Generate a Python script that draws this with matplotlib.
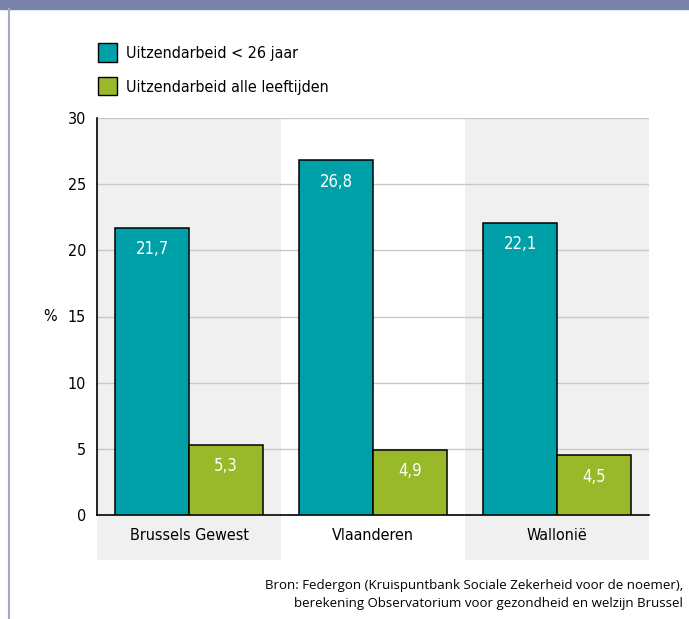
import matplotlib.pyplot as plt
import matplotlib.patches as mpatches
import matplotlib.font_manager as fm
import numpy as np

regions = ["Brussels Gewest", "Vlaanderen", "Wallonië"]
jong = [21.7, 26.8, 22.1]
alle = [5.3, 4.9, 4.5]
series_names = ["Uitzendarbeid < 26 jaar", "Uitzendarbeid alle leeftijden"]
yticks = [0, 5, 10, 15, 20, 25, 30]

teal = "#00a0a8"
green = "#99b82a"
band = "#f0f0f0"
narrow = fm.FontProperties(family="DejaVu Sans", stretch="condensed", size=11.5)

fig = plt.figure(figsize=(6.89, 6.19), dpi=100)

# header strip and left frame line
fig.patches.append(mpatches.Rectangle((0, 1 - 9 / 619), 1, 9 / 619, transform=fig.transFigure,
                                      color="#7882ab", zorder=0))
fig.lines.append(plt.Line2D([8.5 / 689, 8.5 / 689], [0, 1 - 9 / 619], transform=fig.transFigure,
                            color="#a3aacb", lw=1.5))

ax = fig.add_axes([97 / 689, 1 - 515 / 619, (649 - 97) / 689, (515 - 118) / 619])
x = np.arange(len(regions))
w = 0.4

# shaded bands for 1st and 3rd category, reaching under the labels
for i in [0, 2]:
    ax.add_patch(mpatches.Rectangle((i - 0.5, -3.4), 1, 33.4, color=band, zorder=0, clip_on=False,
                                    lw=0))

for y in yticks[1:]:
    ax.axhline(y, color="#c8c8c8", lw=1, zorder=1)

b1 = ax.bar(x - w / 2, jong, w, color=teal, edgecolor="black", lw=1.1, zorder=3)
b2 = ax.bar(x + w / 2, alle, w, color=green, edgecolor="black", lw=1.1, zorder=3)

for bars, vals in [(b1, jong), (b2, alle)]:
    for r, v in zip(bars, vals):
        ax.text(r.get_x() + r.get_width() / 2, v - 1.6, f"{v:.1f}".replace(".", ","),
                ha="center", va="center", color="white", fontproperties=narrow, fontsize=12,
                zorder=4)

ax.set_xlim(-0.5, 2.5)
ax.set_ylim(0, 30)
ax.set_facecolor("none")
ax.set_yticks(yticks)
ax.set_yticklabels([str(t) for t in yticks], fontproperties=narrow)
ax.set_xticks(x)
ax.set_xticklabels(regions, fontproperties=narrow)
ax.tick_params(axis="both", length=0, pad=8)
ax.tick_params(axis="x", pad=9)
for s in ["top", "right"]:
    ax.spines[s].set_visible(False)
ax.spines["left"].set_linewidth(1.2)
ax.spines["bottom"].set_linewidth(1.2)
ax.text(-0.085, 15, "%", transform=ax.get_yaxis_transform(), ha="center", va="center",
        fontproperties=narrow)

handles = [mpatches.Patch(facecolor=teal, edgecolor="black"),
           mpatches.Patch(facecolor=green, edgecolor="black")]
fig.legend(handles, series_names, loc="upper left", bbox_to_anchor=(84 / 689, 1 - 29 / 619),
           frameon=False, prop=narrow, handlelength=1.15, handleheight=1.4,
           handletextpad=0.6, labelspacing=0.95)

fig.text(683 / 689, 1 - 585 / 619, "Bron: Federgon (Kruispuntbank Sociale Zekerheid voor de noemer),",
         ha="right", va="center", fontsize=9.5, family="Open Sans")
fig.text(683 / 689, 1 - 603 / 619, "berekening Observatorium voor gezondheid en welzijn Brussel",
         ha="right", va="center", fontsize=9.5, family="Open Sans")

fig.savefig("out.png", dpi=100)
